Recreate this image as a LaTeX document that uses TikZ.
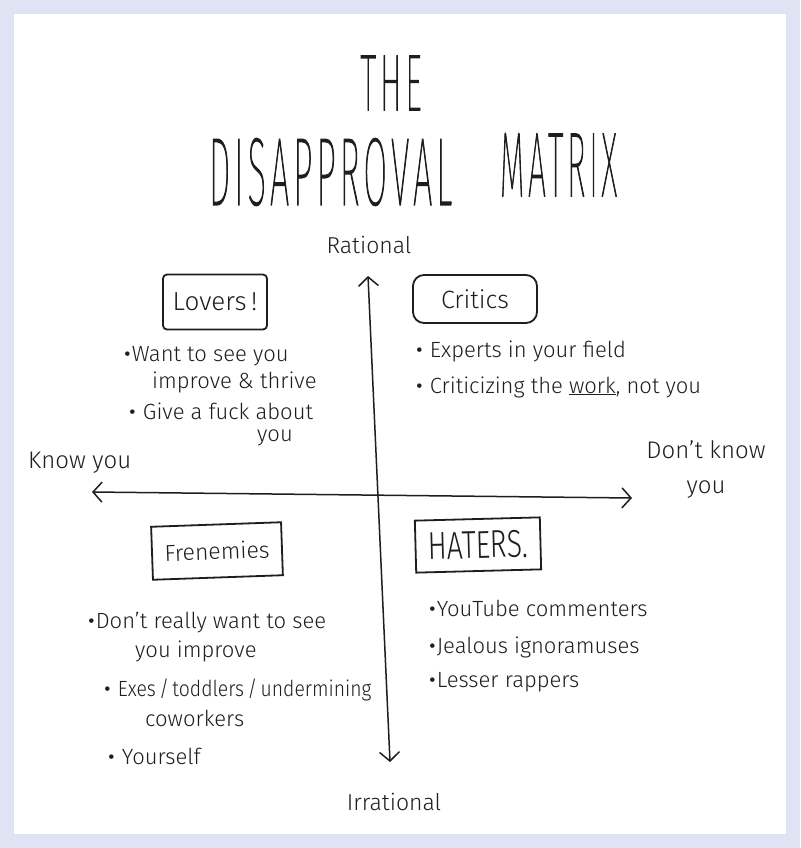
\documentclass[tikz,border=0pt]{standalone}
\usepackage{fontspec}
\setmainfont{Fira Sans Light}
\newfontfamily\titlefont[LetterSpace=12, FakeBold=2]{Fira Sans Thin}
\usetikzlibrary{arrows.meta}
\definecolor{lav}{RGB}{224,227,243}
\definecolor{ink}{RGB}{30,30,30}
\newcommand\mybul{{\fontsize{30}{30}\selectfont\raisebox{-3pt}{•}}}
\begin{document}
\begin{tikzpicture}[x=1pt,y=-1pt,
  hand/.style={font=\fontsize{22}{26}\selectfont, text=ink, inner sep=0pt, anchor=base west},
  lbl/.style={font=\fontsize{23}{27}\selectfont, text=ink, inner sep=0pt},
  titletext/.style={text=ink, inner sep=0pt, font=\titlefont},
  catbox/.style={draw=ink, line width=1.8pt, inner sep=0pt, text=ink},
  axis/.style={draw=ink, line width=1.5pt,
    {Straight Barb[length=9pt,width=20pt,line width=1.5pt]}-{Straight Barb[length=9pt,width=20pt,line width=1.5pt]}}
]
\fill[lav] (0,0) rectangle (800,848);
\fill[white] (14,14) rectangle (786,834);
\useasboundingbox (0,0) rectangle (800,848);

% title
\node[titletext] (the) at (391,83) {\resizebox{61pt}{54pt}{THE}};
\node[titletext] (disap) at (330.5,172) {\resizebox{243pt}{66pt}{DISAPPROVAL}};
\node[titletext] (matrix) at (558.5,165) {\resizebox{117pt}{62pt}{MATRIX}};

% axis labels
\node[lbl, anchor=base] (rational) at (369,253) {Rational};
\node[lbl, anchor=base] (irrational) at (394,810) {Irrational};
\node[lbl, anchor=base west, font=\fontsize{24}{28}\selectfont] (knowyou) at (28,468) {Know you};
\node[lbl, align=center, font=\fontsize{24}{35}\selectfont] (dontknow) at (706,470) {Don't know\\you};

% axes
\coordinate (vtop) at (368,276);
\coordinate (vbot) at (390,762);
\coordinate (hleft) at (92,492);
\coordinate (hright) at (632,498);
\draw[axis] (vbot) -- (vtop);
\draw[axis] (hleft) -- (hright);

% category boxes
\node[catbox, rounded corners=4pt, minimum width=104pt, minimum height=55pt] (lovers) at (215,302)
  {\fontsize{26}{26}\selectfont Lovers\,!};
\node[catbox, rounded corners=11pt, minimum width=124pt, minimum height=48pt] (critics) at (475,299)
  {\fontsize{25}{25}\selectfont Critics};
\node[catbox, rotate=2, minimum width=130pt, minimum height=53pt] (fren) at (217,551)
  {\fontsize{23}{23}\selectfont Frenemies};
\node[catbox, rotate=1.5, minimum width=125pt, minimum height=52pt] (haters) at (478,545)
  {\resizebox{100pt}{27pt}{HATERS.}};

% lovers
\node[hand] (lov1) at (123,361) {\mybul Want to see you};
\node[hand] (lov2) at (152,388) {improve \& thrive};
\node[hand] (lov3) at (128,419) {\mybul\ Give a fuck about};
\node[hand] (lov4) at (257,441) {you};

% critics
\node[hand] (cri1) at (415,357) {\mybul\ Experts in your field};
\node[hand] (cri2) at (415,393) {\mybul\ Criticizing the \underline{work}, not you};

% frenemies
\node[hand] (fre1) at (87,628) {\mybul Don't really want to see};
\node[hand] (fre2) at (135,657) {you improve};
\node[hand] (fre3) at (103,696) {\mybul\ \scalebox{0.88}[1]{Exes\,/\,toddlers\,/\,undermining}};
\node[hand] (fre4) at (145,726) {coworkers};
\node[hand] (fre5) at (107,764) {\mybul\ Yourself};

% haters
\node[hand] (hat1) at (428,616) {\mybul YouTube commenters};
\node[hand] (hat2) at (428,653) {\mybul Jealous ignoramuses};
\node[hand] (hat3) at (428,687) {\mybul Lesser rappers};
\end{tikzpicture}
\end{document}
